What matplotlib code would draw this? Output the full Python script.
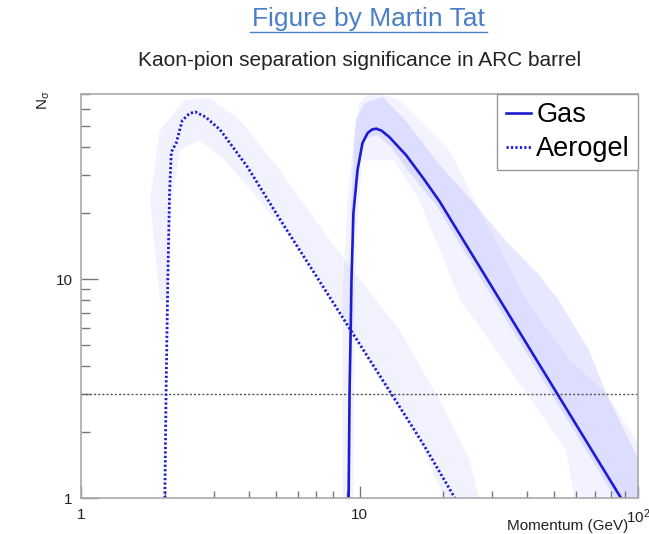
import matplotlib
matplotlib.use("Agg")
import matplotlib.pyplot as plt
from matplotlib.lines import Line2D
from matplotlib.ticker import FixedLocator, LogLocator, NullFormatter

plt.rcParams['font.family'] = ['Liberation Sans', 'DejaVu Sans']
plt.rcParams['mathtext.default'] = 'regular'

# curves (momentum in GeV, N_sigma)
gas_p = [9.14, 9.21, 9.3, 9.36, 9.51, 9.84, 10.25, 10.7, 11.1, 11.5, 12.0, 12.8,
         14.7, 17.0, 19.4, 27.2, 40.0, 60.0, 86.9]
gas_n = [1.0, 3.0, 6.0, 10.0, 20.0, 31.5, 41.8, 46.5, 48.2, 48.6, 47.6, 44.5,
         36.8, 28.7, 22.6, 11.2, 5.02, 2.16, 1.0]

aero_p = [2.0, 2.02, 2.05, 2.08, 2.11, 2.2, 2.31, 2.45, 2.57, 2.8, 3.16, 3.96,
          5.2, 7.0, 9.29, 13.0, 17.0, 22.0]
aero_n = [1.0, 3.0, 10.0, 25.0, 38.0, 42.0, 53.0, 57.0, 58.0, 55.0, 48.0, 32.5,
          18.6, 10.3, 5.85, 3.0, 1.75, 1.0]

# outlines of the scattered per-track points around each curve
gas_halo_p = [8.69, 8.69, 9.06, 9.51, 10.0, 11.0, 13.9, 16.4, 21.0, 26.9, 39.7,
              56.6, 76.8, 109, 109, 59.0, 55.2, 39.7, 23.0, 16.4, 13.3, 10.2,
              9.68, 9.51]
gas_halo_n = [1.0, 8.02, 22.9, 43.1, 63.6, 72.0, 65.7, 53.2, 38.8, 20.7, 8.02,
              4.27, 3.02, 1.5, 1.0, 1.0, 1.66, 3.02, 8.02, 22.9, 34.9, 34.9,
              13.6, 1.0]

gas_dense_p = [9.3, 9.68, 10.4, 12.1, 14.7, 19.4, 25.4, 33.6, 44.2, 52.1, 66.7,
               76.8, 89.1, 105, 105, 82.7, 71.9, 55.8, 39.1, 30.4, 23.6, 18.8,
               15.0, 13.0, 11.6, 10.6, 10.0, 9.6, 9.45]
gas_dense_n = [20.0, 53.2, 63.6, 67.8, 52.6, 33.2, 22.7, 14.9, 10.4, 7.94, 4.74,
               3.02, 2.05, 1.34, 1.0, 1.0, 1.34, 2.27, 4.74, 8.02, 13.6, 21.8,
               31.0, 40.0, 45.5, 44.0, 38.0, 25.0, 12.0]

aero_cloud_p = [1.92, 1.77, 1.92, 2.36, 2.90, 3.72, 5.17, 7.81, 13.9, 19.4, 24.8,
                26.9, 20.2, 16.4, 11.8, 8.48, 6.10, 4.38, 3.28, 2.67, 2.26, 2.12,
                2.05]
aero_cloud_n = [8.02, 22.9, 47.9, 65.7, 67.0, 53.2, 31.4, 15.1, 5.85, 2.80, 1.49,
                1.0, 1.0, 1.84, 3.46, 7.22, 13.6, 22.9, 34.9, 43.1, 38.8, 22.9,
                8.02]

threshold = 3.0
x_ticks = [1, 10, 100]
x_labels = ['1', '10', '10$^{2}$']
y_ticks = [1, 10]
y_labels = ['1', '10']

blue = '#1c1cd2'
cloud = '#5a5aff'

fig = plt.figure(figsize=(6.49, 5.34), dpi=100)
ax = fig.add_axes([81/649, 36/534, 557/649, 404/534])

ax.fill(gas_halo_p, gas_halo_n, color=cloud, alpha=0.07, lw=0)
ax.fill(gas_dense_p, gas_dense_n, color=cloud, alpha=0.14, lw=0)
ax.fill(aero_cloud_p, aero_cloud_n, color=cloud, alpha=0.08, lw=0)

ax.axhline(threshold, color='#555555', lw=1.0, ls=(0, (1.5, 1.5)))

ax.plot(gas_p, gas_n, color=blue, lw=1.9, label='Gas')
ax.plot(aero_p, aero_n, color=blue, lw=2.0, ls=(0, (0.8, 0.8)), label='Aerogel')

ax.set_xscale('log')
ax.set_yscale('log')
ax.set_xlim(1, 100)
ax.set_ylim(1, 70)

ax.xaxis.set_major_locator(FixedLocator(x_ticks))
ax.set_xticklabels(x_labels)
ax.yaxis.set_major_locator(FixedLocator(y_ticks))
ax.set_yticklabels(y_labels)
ax.xaxis.set_minor_locator(LogLocator(base=10, subs=range(2, 10)))
ax.yaxis.set_minor_locator(LogLocator(base=10, subs=range(2, 10)))
ax.xaxis.set_minor_formatter(NullFormatter())
ax.yaxis.set_minor_formatter(NullFormatter())

ax.tick_params(axis='both', which='both', direction='in', color='#777777',
               labelsize=11, labelcolor='#222222', top=False, right=False)
ax.tick_params(axis='y', which='major', length=12, width=1, pad=6)
ax.tick_params(axis='y', which='minor', length=6.5, width=1)
ax.tick_params(axis='x', which='major', length=8.5, width=1, pad=7)
ax.tick_params(axis='x', which='minor', length=5, width=1)

for s in ax.spines.values():
    s.set_color('#aaaaaa')
    s.set_linewidth(1.2)

ax.set_xlabel('Momentum (GeV)', fontsize=11, color='#222222')
ax.xaxis.set_label_coords(0.982, -0.069)
ax.xaxis.label.set_ha('right')
ax.xaxis.label.set_va('center')
ax.set_ylabel('N$_{\\sigma}$', fontsize=11, color='#222222', rotation=90)
ax.yaxis.set_label_coords(-0.082, 0.985)
ax.yaxis.label.set_va('top')

leg = ax.legend(loc='upper right', bbox_to_anchor=(1.0, 1.0), borderaxespad=0,
                fancybox=False, edgecolor='#999999', fontsize=19.5, handlelength=0.95,
                handletextpad=0.18, labelspacing=0.3, borderpad=0.3, framealpha=1)
leg.get_frame().set_linewidth(1.0)

fig.text(368/649, 1 - 19/534, 'Figure by Martin Tat', ha='center', va='center',
         fontsize=19, color='#4a7fc8')
fig.add_artist(Line2D([250/649, 487/649], [1 - 32/534, 1 - 32/534],
                      color='#4a7fc8', lw=1.0))
fig.text(360/649, 1 - 60/534, 'Kaon-pion separation significance in ARC barrel',
         ha='center', va='center', fontsize=15, color='#222222')

fig.savefig('out.png', dpi=100)
